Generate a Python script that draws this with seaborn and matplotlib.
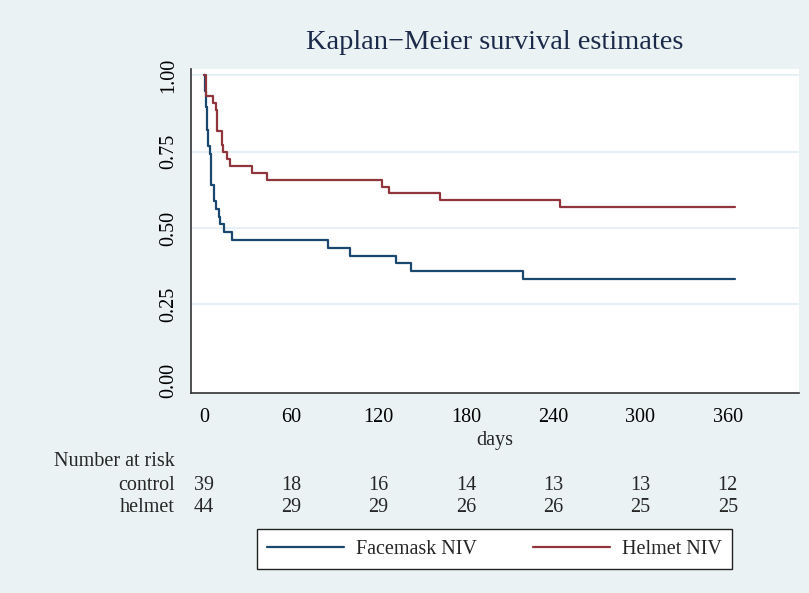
import numpy as np
import pandas as pd
import matplotlib
matplotlib.use("Agg")
import matplotlib.pyplot as plt
import matplotlib.transforms as mtransforms
import seaborn as sns

# Kaplan-Meier step points
mask_days = [0, 0.5, 1.2, 2, 3, 4, 5, 7, 8, 10, 11, 14, 19, 85, 100, 132, 142, 219, 365]
mask_surv = [1.0, 0.949, 0.897, 0.821, 0.769, 0.744, 0.641, 0.590, 0.564, 0.538,
             0.513, 0.487, 0.462, 0.436, 0.410, 0.385, 0.359, 0.333, 0.333]

helmet_days = [0, 1, 6, 8, 9, 12, 13, 16, 18, 33, 43, 122, 127, 162, 245, 365]
helmet_surv = [1.0, 0.932, 0.909, 0.886, 0.818, 0.773, 0.750, 0.727, 0.705,
               0.682, 0.659, 0.636, 0.614, 0.591, 0.568, 0.568]

risk_days = [0, 60, 120, 180, 240, 300, 360]
risk_control = [39, 18, 16, 14, 13, 13, 12]
risk_helmet = [44, 29, 29, 26, 26, 25, 25]

bg = "#eaf2f3"
navy = "#1a476f"
maroon = "#90353b"
fs = 14.5

sns.set_style("white")
plt.rcParams["font.family"] = ["Liberation Serif", "DejaVu Serif"]

mask_df = pd.DataFrame({"days": mask_days, "surv": mask_surv, "group": "Facemask NIV"})
helmet_df = pd.DataFrame({"days": helmet_days, "surv": helmet_surv, "group": "Helmet NIV"})
km = pd.concat([mask_df, helmet_df], ignore_index=True)

fig = plt.figure(figsize=(8.09, 5.93), dpi=100, facecolor=bg)
ax = fig.add_axes([0.2361, 0.3373, 0.7515, 0.5457])
ax.set_facecolor("white")

sns.lineplot(data=km, x="days", y="surv", hue="group",
             palette={"Facemask NIV": navy, "Helmet NIV": maroon},
             estimator=None, sort=False, drawstyle="steps-post",
             linewidth=1.6, ax=ax, legend=False)

ax.set_xlim(-9, 409)
ax.set_ylim(-0.04, 1.02)
ax.set_xticks(risk_days)
ax.set_yticks([0, 0.25, 0.5, 0.75, 1.0])
ax.set_yticklabels(["0.00", "0.25", "0.50", "0.75", "1.00"], rotation=90, va="center")
ax.tick_params(axis="both", direction="out", length=6, width=1, labelsize=fs,
               colors="#222222", labelcolor="black")
ax.tick_params(axis="x", pad=5)
ax.tick_params(axis="y", pad=3)
ax.grid(False)
for y in [0.25, 0.5, 0.75, 1.0]:
    ax.axhline(y, color="#e3edf2", linewidth=1.2, zorder=0)

for side in ["top", "right"]:
    ax.spines[side].set_visible(False)
for side in ["left", "bottom"]:
    ax.spines[side].set_color("#333333")
    ax.spines[side].set_linewidth(1.2)

ax.set_xlabel("days", fontsize=fs, labelpad=3)
ax.set_ylabel("")
ax.set_title("Kaplan\u2212Meier survival estimates", fontsize=20.5, color="#1c2a4a", pad=15)

# number at risk table
trans = mtransforms.blended_transform_factory(ax.transData, fig.transFigure)
fig.text(175 / 809, 1 - 462 / 593, "Number at risk", ha="right", va="center", fontsize=fs)
fig.text(175 / 809, 1 - 485 / 593, "control", ha="right", va="center", fontsize=fs)
fig.text(175 / 809, 1 - 508 / 593, "helmet", ha="right", va="center", fontsize=fs)
for d, c, h in zip(risk_days, risk_control, risk_helmet):
    ax.text(d, 1 - 485 / 593, str(c), transform=trans, ha="center", va="center", fontsize=fs)
    ax.text(d, 1 - 508 / 593, str(h), transform=trans, ha="center", va="center", fontsize=fs)

handles = [plt.Line2D([], [], color=navy, linewidth=1.6),
           plt.Line2D([], [], color=maroon, linewidth=1.6)]
leg = fig.legend(handles, ["Facemask NIV", "Helmet NIV"], ncol=2,
                 loc="center", bbox_to_anchor=(257 / 809, 1 - 568 / 593, 475 / 809, 38 / 593),
                 mode="expand", fontsize=fs, handlelength=3.8, handletextpad=0.6,
                 columnspacing=2.2, fancybox=False, framealpha=1, borderaxespad=0,
                 borderpad=0.5)
leg.get_frame().set_edgecolor("#222222")
leg.get_frame().set_linewidth(1.0)

fig.savefig("out.png", dpi=100, facecolor=bg)
